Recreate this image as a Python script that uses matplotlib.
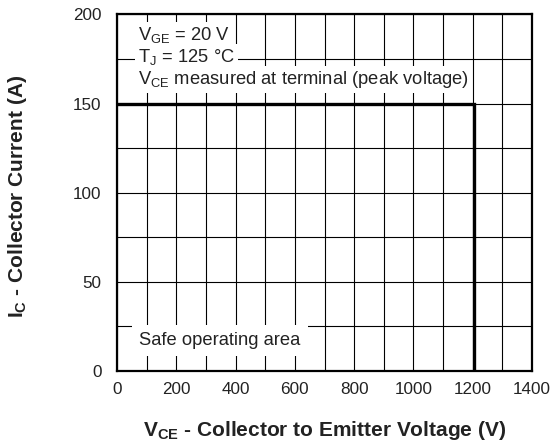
import matplotlib
matplotlib.use('Agg')
import matplotlib.pyplot as plt
from matplotlib.ticker import MultipleLocator

plt.rcParams['font.family'] = 'Liberation Sans'
plt.rcParams['mathtext.fontset'] = 'custom'
plt.rcParams['mathtext.rm'] = 'Liberation Sans'
plt.rcParams['mathtext.it'] = 'Liberation Sans:italic'
plt.rcParams['mathtext.bf'] = 'Liberation Sans:bold'

# safe operating area boundary
soa_v = [0, 1205, 1205]
soa_i = [150, 150, 0]

x_ticks = [0, 200, 400, 600, 800, 1000, 1200, 1400]
y_ticks = [0, 50, 100, 150, 200]

notes = [r'$\mathrm{V_{GE}}$ = 20 V',
         r'$\mathrm{T_J}$ = 125 °C',
         r'$\mathrm{V_{CE}}$ measured at terminal (peak voltage)']

fig = plt.figure(figsize=(5.53, 4.47), dpi=100)
ax = fig.add_axes([0.2116, 0.170, 0.7504, 0.7976])

ax.set_xlim(0, 1400)
ax.set_ylim(0, 200)
ax.set_xticks(x_ticks)
ax.set_yticks(y_ticks)
ax.xaxis.set_minor_locator(MultipleLocator(100))
ax.yaxis.set_minor_locator(MultipleLocator(25))
ax.grid(which='both', color='black', linewidth=0.8)
ax.set_axisbelow(True)
ax.tick_params(which='both', length=0, labelsize=12.3, colors='#222222')
ax.tick_params(axis='x', pad=8)
ax.tick_params(axis='y', pad=11)
for s in ax.spines.values():
    s.set_linewidth(1.6)

ax.plot(soa_v, soa_i, color='black', linewidth=2.4, solid_joinstyle='miter', zorder=3)

note_y = [185.6, 173.3, 161.0]
for txt, y in zip(notes, note_y):
    ax.text(71, y, txt, fontsize=13.2, va='baseline', ha='left', color='#222222',
            bbox=dict(facecolor='white', edgecolor='none', boxstyle='square,pad=0.15'),
            zorder=2)

ax.text(74, 14.6, 'Safe operating area', fontsize=13.2, va='baseline', ha='left',
        color='#222222',
        bbox=dict(facecolor='white', edgecolor='none', boxstyle='square,pad=0.4'),
        zorder=2)

ax.set_xlabel(r'$\mathbf{V}_{\mathbf{CE}}$ - Collector to Emitter Voltage (V)',
              fontsize=15, fontweight='bold', color='#222222')
ax.set_ylabel(r'$\mathbf{I}_{\mathbf{C}}$ - Collector Current (A)',
              fontsize=15, fontweight='bold', color='#222222')
ax.xaxis.set_label_coords(0.5, -0.135)
ax.yaxis.set_label_coords(-0.212, 0.49)

fig.savefig('out.png', dpi=100)
